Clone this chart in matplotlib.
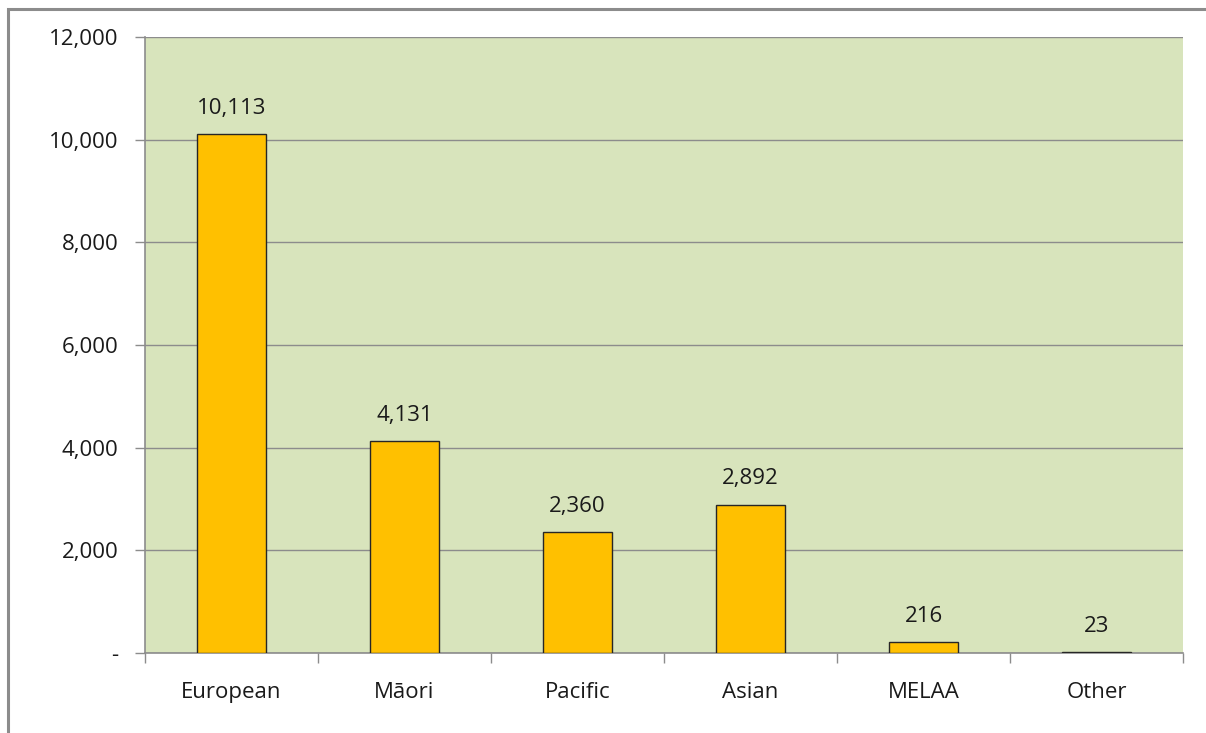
import matplotlib
matplotlib.use("Agg")
import matplotlib.pyplot as plt
from matplotlib.patches import Rectangle
from matplotlib.ticker import FuncFormatter, FixedLocator, NullFormatter

categories = ["European", "Māori", "Pacific", "Asian", "MELAA", "Other"]
values = [10113, 4131, 2360, 2892, 216, 23]
yticks = [0, 2000, 4000, 6000, 8000, 10000, 12000]

plt.rcParams['font.family'] = ['Open Sans', 'DejaVu Sans']
FS = 16

W, H = 1206, 733
fig = plt.figure(figsize=(W / 100, H / 100), dpi=100)
fig.patch.set_facecolor("white")

# outer chart border (extends past right/bottom edges)
fig.patches.append(Rectangle((8 / W, -0.05), 1.1, 1 - 9 / H + 0.05,
                             transform=fig.transFigure, fill=False,
                             edgecolor="#8c8c8c", linewidth=2.2, zorder=0))

ax = fig.add_axes([145 / W, 1 - 653 / H, (1183 - 145) / W, (653 - 37) / H])
ax.set_facecolor("#d8e4bc")

x = list(range(len(categories)))
bars = ax.bar(x, values, width=0.4, color="#ffc000", edgecolor="#262626",
              linewidth=1.0, zorder=3)

ax.set_xlim(-0.5, len(categories) - 0.5)
ax.set_ylim(0, 12000)

ax.set_yticks(yticks)
ax.yaxis.set_major_formatter(FuncFormatter(lambda v, p: "-" if v == 0 else f"{int(v):,}"))
ax.grid(axis="y", color="#8c8c8c", linewidth=1.0, zorder=1)
ax.set_axisbelow(True)

# x ticks at category boundaries, labels at centres
ax.xaxis.set_major_locator(FixedLocator([i - 0.5 for i in range(len(categories) + 1)]))
ax.xaxis.set_major_formatter(NullFormatter())
ax.xaxis.set_minor_locator(FixedLocator(x))
ax.set_xticklabels(categories, minor=True)
ax.tick_params(axis="x", which="minor", length=0, pad=21, labelsize=FS, labelcolor="#1a1a1a")
ax.tick_params(axis="x", which="major", length=7, width=1.0, color="#8c8c8c", direction="out")
ax.tick_params(axis="y", length=7, width=1.0, color="#8c8c8c", direction="out",
               labelsize=FS, labelcolor="#1a1a1a", pad=12)

for side in ["top", "right"]:
    ax.spines[side].set_visible(False)
for side in ["left", "bottom"]:
    ax.spines[side].set_color("#8c8c8c")
    ax.spines[side].set_linewidth(1.2)

for b, v in zip(bars, values):
    ax.annotate(f"{v:,}", (b.get_x() + b.get_width() / 2, v),
                xytext=(0, 11), textcoords="offset points", ha="center", va="bottom",
                fontsize=FS, color="#1a1a1a")

fig.savefig("out.png", dpi=100)
